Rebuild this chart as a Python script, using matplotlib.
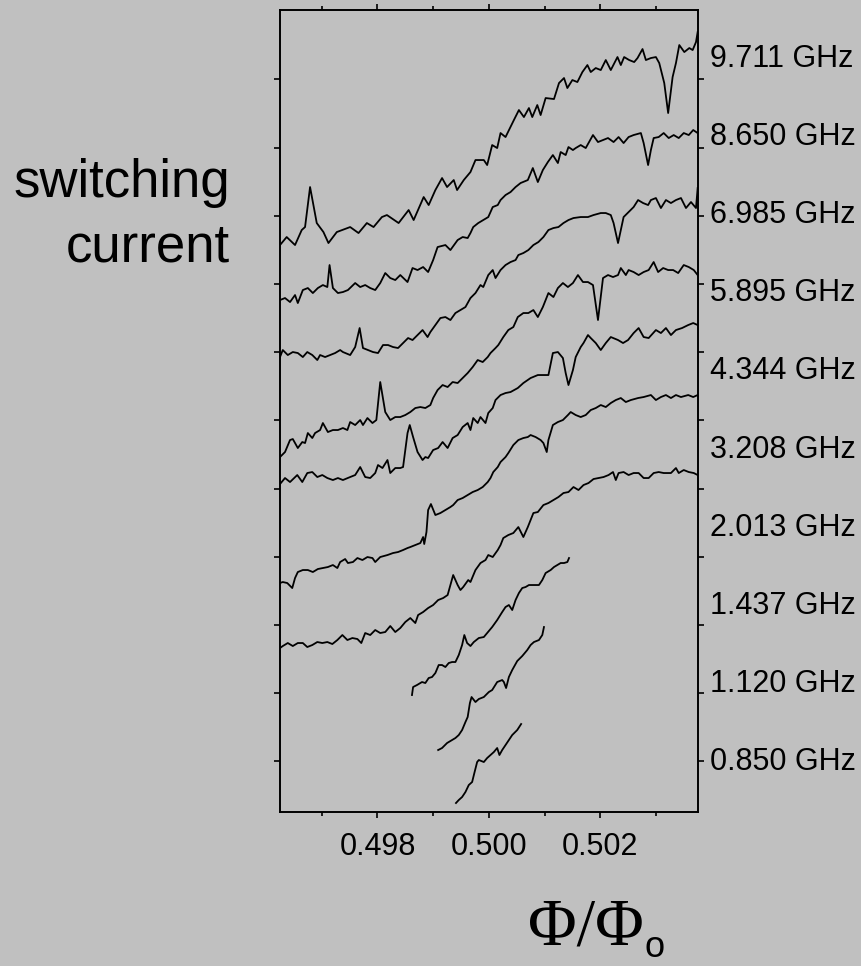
import numpy as np
import matplotlib
matplotlib.use('Agg')
import matplotlib.pyplot as plt

# microwave frequency of each trace (GHz), top trace first
freqs = [9.711, 8.650, 6.985, 5.895, 4.344, 3.208, 2.013, 1.437, 1.120, 0.850]

# switching current vs flux, traces offset vertically (current in arb. units)
# each point is (flux / flux quantum, switching current)
trace_9711 = [(0.49625, 567), (0.49637, 575), (0.49652, 567), (0.49664, 582), (0.49670, 585),
              (0.49679, 625), (0.49691, 589), (0.49703, 580), (0.49712, 569), (0.49727, 580),
              (0.49751, 585), (0.49766, 579), (0.49781, 589), (0.49793, 585), (0.49808, 595),
              (0.49817, 597), (0.49838, 589), (0.49856, 602), (0.49865, 592), (0.49883, 615),
              (0.49892, 607), (0.49904, 622), (0.49916, 634), (0.49925, 625), (0.49937, 632),
              (0.49943, 622), (0.49955, 632), (0.49967, 640), (0.49976, 652), (0.49991, 652),
              (0.49997, 647), (0.50006, 667), (0.50015, 664), (0.50021, 679), (0.50030, 675),
              (0.50045, 692), (0.50054, 702), (0.50063, 695), (0.50072, 704), (0.50078, 695),
              (0.50087, 707), (0.50093, 697), (0.50102, 714), (0.50117, 713), (0.50126, 729),
              (0.50135, 734), (0.50141, 724), (0.50150, 732), (0.50159, 730), (0.50168, 740),
              (0.50177, 747), (0.50183, 740), (0.50192, 744), (0.50201, 742), (0.50210, 752),
              (0.50219, 742), (0.50231, 755), (0.50237, 747), (0.50243, 755), (0.50252, 752),
              (0.50261, 750), (0.50267, 754), (0.50276, 763), (0.50282, 752), (0.50291, 754),
              (0.50300, 755), (0.50306, 749), (0.50315, 729), (0.50322, 699), (0.50330, 735),
              (0.50336, 749), (0.50342, 767), (0.50351, 760), (0.50360, 764), (0.50366, 762),
              (0.50372, 770), (0.50375, 780)]

trace_8650 = [(0.49625, 512), (0.49634, 514), (0.49643, 510), (0.49652, 517), (0.49657, 509),
              (0.49666, 522), (0.49675, 524), (0.49684, 519), (0.49693, 524), (0.49702, 527),
              (0.49710, 525), (0.49714, 547), (0.49720, 524), (0.49729, 519), (0.49738, 520),
              (0.49747, 522), (0.49760, 529), (0.49769, 525), (0.49778, 527), (0.49787, 524),
              (0.49796, 522), (0.49805, 529), (0.49814, 539), (0.49823, 534), (0.49832, 532),
              (0.49841, 537), (0.49854, 530), (0.49863, 544), (0.49872, 542), (0.49882, 545),
              (0.49891, 540), (0.49900, 552), (0.49908, 565), (0.49922, 567), (0.49931, 562),
              (0.49944, 572), (0.49953, 575), (0.49962, 574), (0.49967, 579), (0.49972, 585),
              (0.49981, 589), (0.49990, 592), (0.49999, 595), (0.50007, 605), (0.50016, 607),
              (0.50021, 612), (0.50030, 617), (0.50039, 620), (0.50048, 625), (0.50057, 629),
              (0.50070, 632), (0.50079, 644), (0.50088, 630), (0.50097, 642), (0.50106, 650),
              (0.50115, 657), (0.50124, 649), (0.50129, 660), (0.50138, 657), (0.50143, 665),
              (0.50151, 662), (0.50156, 664), (0.50165, 667), (0.50174, 664), (0.50187, 677),
              (0.50196, 670), (0.50205, 672), (0.50214, 674), (0.50224, 670), (0.50233, 675),
              (0.50242, 669), (0.50251, 675), (0.50260, 677), (0.50273, 679), (0.50278, 669),
              (0.50286, 647), (0.50291, 662), (0.50296, 674), (0.50305, 675), (0.50314, 679),
              (0.50323, 674), (0.50332, 677), (0.50341, 674), (0.50350, 679), (0.50359, 677),
              (0.50367, 682), (0.50375, 679)]

trace_6985 = [(0.49625, 455), (0.49630, 462), (0.49639, 457), (0.49648, 460), (0.49657, 459),
              (0.49666, 455), (0.49674, 460), (0.49683, 457), (0.49692, 452), (0.49697, 457),
              (0.49706, 455), (0.49715, 457), (0.49724, 459), (0.49733, 462), (0.49738, 460),
              (0.49751, 457), (0.49760, 465), (0.49768, 484), (0.49774, 464), (0.49783, 462),
              (0.49792, 460), (0.49801, 459), (0.49810, 467), (0.49819, 467), (0.49828, 465),
              (0.49837, 464), (0.49846, 469), (0.49855, 474), (0.49863, 472), (0.49872, 477),
              (0.49881, 482), (0.49890, 475), (0.49895, 480), (0.49904, 487), (0.49913, 494),
              (0.49922, 495), (0.49931, 492), (0.49940, 499), (0.49949, 502), (0.49958, 505),
              (0.49967, 514), (0.49976, 519), (0.49985, 527), (0.49990, 525), (0.49999, 537),
              (0.50007, 542), (0.50012, 534), (0.50021, 542), (0.50030, 547), (0.50039, 550),
              (0.50048, 552), (0.50053, 557), (0.50062, 559), (0.50071, 562), (0.50080, 567),
              (0.50089, 570), (0.50098, 575), (0.50107, 582), (0.50116, 584), (0.50125, 585),
              (0.50134, 589), (0.50143, 592), (0.50152, 594), (0.50165, 595), (0.50178, 595),
              (0.50188, 597), (0.50201, 599), (0.50210, 599), (0.50219, 597), (0.50224, 589),
              (0.50232, 569), (0.50237, 582), (0.50242, 595), (0.50251, 600), (0.50260, 605),
              (0.50268, 612), (0.50277, 609), (0.50286, 607), (0.50291, 612), (0.50300, 614),
              (0.50309, 604), (0.50318, 612), (0.50327, 609), (0.50336, 612), (0.50345, 614),
              (0.50354, 604), (0.50363, 610), (0.50372, 604), (0.50375, 624)]

trace_5895 = [(0.49625, 355), (0.49634, 360), (0.49643, 372), (0.49648, 373), (0.49657, 364),
              (0.49665, 370), (0.49670, 369), (0.49675, 379), (0.49683, 374), (0.49688, 379),
              (0.49697, 382), (0.49702, 389), (0.49711, 380), (0.49720, 382), (0.49729, 382),
              (0.49738, 384), (0.49746, 382), (0.49751, 390), (0.49760, 387), (0.49769, 392),
              (0.49774, 387), (0.49782, 394), (0.49791, 389), (0.49798, 392), (0.49805, 430),
              (0.49814, 400), (0.49823, 392), (0.49832, 395), (0.49841, 395), (0.49850, 397),
              (0.49859, 400), (0.49868, 404), (0.49877, 405), (0.49886, 404), (0.49895, 407),
              (0.49900, 414), (0.49908, 422), (0.49917, 427), (0.49926, 425), (0.49935, 430),
              (0.49944, 429), (0.49953, 434), (0.49962, 439), (0.49971, 445), (0.49980, 452),
              (0.49989, 450), (0.49998, 455), (0.50003, 459), (0.50012, 464), (0.50017, 467),
              (0.50026, 475), (0.50035, 482), (0.50044, 485), (0.50052, 495), (0.50062, 499),
              (0.50071, 499), (0.50080, 502), (0.50088, 495), (0.50097, 505), (0.50102, 512),
              (0.50107, 519), (0.50116, 515), (0.50124, 524), (0.50133, 529), (0.50142, 525),
              (0.50151, 529), (0.50160, 537), (0.50169, 530), (0.50178, 530), (0.50187, 527),
              (0.50196, 492), (0.50205, 534), (0.50214, 537), (0.50223, 535), (0.50232, 537),
              (0.50237, 544), (0.50246, 537), (0.50251, 542), (0.50260, 540), (0.50269, 537),
              (0.50278, 540), (0.50287, 542), (0.50296, 550), (0.50304, 540), (0.50313, 544),
              (0.50322, 542), (0.50331, 542), (0.50340, 539), (0.50350, 547), (0.50359, 545),
              (0.50368, 542), (0.50375, 537)]

trace_4344 = [(0.49625, 328), (0.49634, 334), (0.49643, 330), (0.49656, 337), (0.49665, 330),
              (0.49674, 339), (0.49683, 340), (0.49692, 335), (0.49701, 337), (0.49710, 334),
              (0.49720, 332), (0.49729, 334), (0.49738, 332), (0.49751, 335), (0.49760, 337),
              (0.49769, 345), (0.49778, 335), (0.49787, 334), (0.49796, 339), (0.49801, 347),
              (0.49809, 344), (0.49818, 352), (0.49823, 339), (0.49832, 344), (0.49841, 344),
              (0.49846, 345), (0.49854, 379), (0.49858, 387), (0.49864, 375), (0.49872, 360),
              (0.49881, 352), (0.49886, 355), (0.49891, 354), (0.49900, 362), (0.49909, 364),
              (0.49917, 370), (0.49926, 364), (0.49935, 374), (0.49944, 377), (0.49953, 385),
              (0.49962, 389), (0.49967, 382), (0.49972, 394), (0.49980, 389), (0.49985, 395),
              (0.49994, 389), (0.49999, 399), (0.50007, 404), (0.50012, 412), (0.50021, 417),
              (0.50030, 419), (0.50039, 420), (0.50052, 424), (0.50062, 429), (0.50075, 434),
              (0.50088, 437), (0.50098, 437), (0.50107, 437), (0.50115, 459), (0.50124, 460),
              (0.50133, 454), (0.50138, 439), (0.50143, 427), (0.50151, 442), (0.50156, 455),
              (0.50165, 465), (0.50170, 469), (0.50178, 477), (0.50183, 474), (0.50192, 469),
              (0.50201, 462), (0.50210, 469), (0.50219, 475), (0.50232, 472), (0.50241, 469),
              (0.50250, 472), (0.50260, 479), (0.50269, 484), (0.50278, 475), (0.50287, 474),
              (0.50300, 482), (0.50309, 479), (0.50318, 484), (0.50327, 477), (0.50336, 482),
              (0.50347, 484), (0.50358, 487), (0.50367, 489), (0.50375, 487)]

trace_3208 = [(0.49625, 229), (0.49630, 230), (0.49638, 229), (0.49647, 224), (0.49652, 234),
              (0.49657, 240), (0.49666, 242), (0.49675, 242), (0.49684, 240), (0.49693, 243),
              (0.49702, 244), (0.49711, 245), (0.49720, 247), (0.49728, 244), (0.49733, 250),
              (0.49742, 253), (0.49747, 249), (0.49756, 250), (0.49764, 254), (0.49773, 252),
              (0.49782, 255), (0.49791, 254), (0.49796, 250), (0.49805, 255), (0.49818, 257),
              (0.49828, 259), (0.49837, 260), (0.49846, 262), (0.49854, 264), (0.49859, 265),
              (0.49868, 267), (0.49877, 269), (0.49882, 275), (0.49884, 268), (0.49888, 280),
              (0.49891, 302), (0.49896, 308), (0.49904, 297), (0.49913, 299), (0.49922, 302),
              (0.49931, 305), (0.49936, 307), (0.49944, 312), (0.49953, 314), (0.49962, 317),
              (0.49971, 320), (0.49980, 322), (0.49989, 325), (0.49998, 330), (0.50003, 334),
              (0.50008, 340), (0.50016, 345), (0.50021, 350), (0.50030, 355), (0.50035, 359),
              (0.50044, 367), (0.50053, 372), (0.50062, 374), (0.50070, 375), (0.50075, 377),
              (0.50084, 375), (0.50093, 372), (0.50098, 369), (0.50104, 360), (0.50107, 372),
              (0.50115, 387), (0.50124, 390), (0.50133, 392), (0.50142, 397), (0.50147, 400),
              (0.50156, 397), (0.50165, 395), (0.50174, 397), (0.50183, 402), (0.50192, 404),
              (0.50201, 407), (0.50210, 405), (0.50219, 409), (0.50228, 412), (0.50237, 414),
              (0.50246, 410), (0.50255, 412), (0.50268, 414), (0.50278, 415), (0.50291, 417),
              (0.50300, 412), (0.50309, 415), (0.50318, 417), (0.50327, 414), (0.50336, 417),
              (0.50345, 415), (0.50358, 417), (0.50367, 415), (0.50375, 417)]

trace_2013 = [(0.49625, 164), (0.49630, 166), (0.49639, 169), (0.49648, 166), (0.49657, 169),
              (0.49666, 169), (0.49674, 165), (0.49683, 167), (0.49692, 170), (0.49701, 169),
              (0.49710, 170), (0.49719, 168), (0.49728, 172), (0.49737, 177), (0.49746, 172),
              (0.49755, 174), (0.49764, 173), (0.49771, 169), (0.49778, 179), (0.49787, 177),
              (0.49796, 182), (0.49805, 179), (0.49814, 180), (0.49823, 186), (0.49832, 180),
              (0.49841, 184), (0.49850, 190), (0.49859, 194), (0.49868, 189), (0.49873, 197),
              (0.49882, 200), (0.49891, 204), (0.49900, 207), (0.49909, 212), (0.49918, 214),
              (0.49926, 217), (0.49931, 227), (0.49936, 237), (0.49944, 227), (0.49949, 222),
              (0.49954, 225), (0.49963, 232), (0.49967, 230), (0.49976, 242), (0.49985, 249),
              (0.49994, 252), (0.49999, 257), (0.50007, 255), (0.50016, 262), (0.50021, 267),
              (0.50026, 274), (0.50035, 277), (0.50044, 279), (0.50053, 285), (0.50062, 275),
              (0.50070, 285), (0.50075, 292), (0.50080, 299), (0.50088, 300), (0.50098, 307),
              (0.50107, 309), (0.50116, 312), (0.50125, 315), (0.50134, 319), (0.50143, 320),
              (0.50152, 325), (0.50161, 322), (0.50170, 327), (0.50179, 329), (0.50188, 333),
              (0.50197, 334), (0.50206, 335), (0.50215, 337), (0.50223, 340), (0.50228, 332),
              (0.50233, 339), (0.50242, 340), (0.50251, 337), (0.50260, 339), (0.50269, 339),
              (0.50278, 334), (0.50287, 334), (0.50296, 339), (0.50305, 340), (0.50314, 339),
              (0.50327, 339), (0.50336, 344), (0.50341, 339), (0.50350, 342), (0.50359, 340),
              (0.50368, 339), (0.50375, 337)]

trace_1437 = [(0.49862, 117), (0.49864, 125), (0.49871, 127), (0.49877, 129), (0.49880, 130),
              (0.49886, 129), (0.49892, 134), (0.49898, 135), (0.49904, 139), (0.49910, 147),
              (0.49916, 147), (0.49922, 145), (0.49928, 149), (0.49934, 150), (0.49940, 150),
              (0.49946, 157), (0.49952, 167), (0.49956, 177), (0.49961, 169), (0.49967, 166),
              (0.49973, 170), (0.49982, 174), (0.49991, 175), (0.49997, 179), (0.50006, 185),
              (0.50015, 192), (0.50024, 200), (0.50030, 205), (0.50036, 207), (0.50042, 202),
              (0.50048, 212), (0.50054, 219), (0.50060, 224), (0.50066, 225), (0.50072, 227),
              (0.50081, 227), (0.50090, 227), (0.50096, 232), (0.50102, 239), (0.50111, 242),
              (0.50117, 245), (0.50123, 247), (0.50129, 249), (0.50135, 249), (0.50141, 250),
              (0.50144, 254)]

trace_1120 = [(0.49909, 62), (0.49916, 64), (0.49925, 69), (0.49934, 72), (0.49940, 74),
              (0.49946, 77), (0.49952, 82), (0.49958, 90), (0.49962, 95), (0.49966, 109),
              (0.49969, 115), (0.49976, 110), (0.49982, 113), (0.49991, 115), (0.50000, 120),
              (0.50006, 122), (0.50015, 130), (0.50024, 132), (0.50027, 130), (0.50031, 124),
              (0.50036, 135), (0.50042, 142), (0.50051, 151), (0.50060, 156), (0.50069, 162),
              (0.50075, 167), (0.50081, 170), (0.50090, 172), (0.50096, 177), (0.50099, 185)]

trace_0850 = [(0.49941, 9), (0.49946, 12), (0.49952, 15), (0.49958, 20), (0.49964, 27),
              (0.49970, 30), (0.49974, 39), (0.49979, 50), (0.49982, 52), (0.49991, 50),
              (0.49997, 54), (0.50003, 57), (0.50009, 60), (0.50015, 64), (0.50019, 57),
              (0.50024, 62), (0.50030, 67), (0.50036, 72), (0.50042, 77), (0.50051, 82),
              (0.50058, 88)]

traces = [trace_9711, trace_8650, trace_6985, trace_5895, trace_4344,
          trace_3208, trace_2013, trace_1437, trace_1120, trace_0850]

xticks = [0.498, 0.500, 0.502]
xticklabels = ['0.498', '0.500', '0.502']

bg = '#c0c0c0'
plt.rcParams['font.family'] = ['Liberation Sans', 'DejaVu Sans']

fig = plt.figure(figsize=(8.61, 9.66), dpi=100, facecolor=bg)
ax = fig.add_axes([0.3252, 0.1594, 0.4851, 0.8302])
ax.set_facecolor(bg)

for tr in traces:
    phi, isw = np.array(tr).T
    ax.plot(phi, isw, color='black', lw=1.3)

ax.set_xlim(0.49625, 0.50375)
ax.set_ylim(0, 802)
ax.set_xticks(xticks)
ax.set_xticklabels(xticklabels)
ax.set_xticks([0.497, 0.499, 0.501, 0.503], minor=True)
ax.set_yticks(np.linspace(50.7, 732.7, 11))
ax.set_yticklabels([])

ax.tick_params(which='both', direction='out', top=True, right=True,
               width=1.2, labelsize=22, pad=10)
ax.tick_params(which='major', length=4.5)
ax.tick_params(which='minor', length=3)
for s in ax.spines.values():
    s.set_linewidth(1.4)

# frequency of each trace, listed down the right side
for i, f in enumerate(freqs):
    ax.text(1.0294, 0.9289 - i * 0.09739, f'{f:.3f} GHz', transform=ax.transAxes,
            fontsize=22, ha='left', va='baseline')

fig.text(230 / 861, 1 - 197 / 966, 'switching', fontsize=38, ha='right', va='baseline')
fig.text(230 / 861, 1 - 261 / 966, 'current', fontsize=38, ha='right', va='baseline')

fig.text(528 / 861, 1 - 945 / 966, '\u03a6/\u03a6', fontsize=48, ha='left', va='baseline',
         family=['Liberation Serif', 'DejaVu Serif'])
fig.text(645 / 861, 1 - 957 / 966, 'o', fontsize=26, ha='left', va='baseline')

fig.savefig('out.png', dpi=100, facecolor=bg)
